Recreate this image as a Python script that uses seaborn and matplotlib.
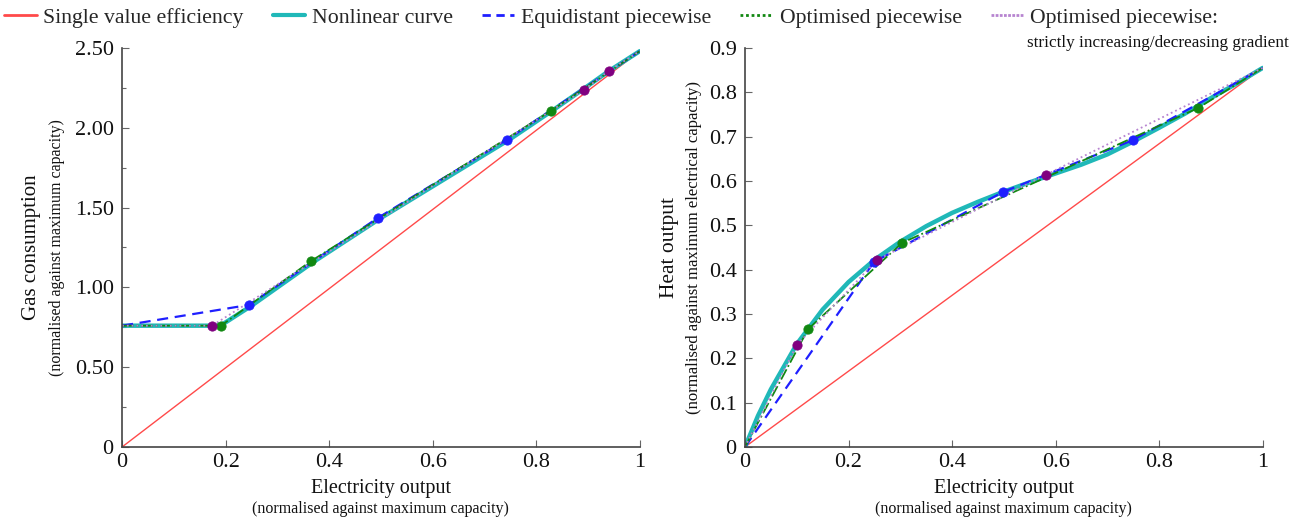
import numpy as np
import pandas as pd
import seaborn as sns
import matplotlib.pyplot as plt
from matplotlib.lines import Line2D
from matplotlib.ticker import MultipleLocator

# left panel: gas consumption
gas_single_x = [0, 1]
gas_single_y = [0, 2.48]
gas_curve_x = [0, 0.19, 0.25, 0.37, 0.5, 0.75, 0.83, 0.89, 0.94, 1.0]
gas_curve_y = [0.76, 0.76, 0.885, 1.16, 1.435, 1.93, 2.105, 2.24, 2.355, 2.48]
gas_equi_x = [0, 0.245, 0.494, 0.743, 1.0]
gas_equi_y = [0.76, 0.89, 1.435, 1.925, 2.48]
gas_opt_x = [0, 0.191, 0.365, 0.828, 1.0]
gas_opt_y = [0.76, 0.76, 1.165, 2.105, 2.48]
gas_strict_x = [0, 0.174, 0.892, 0.94, 1.0]
gas_strict_y = [0.76, 0.76, 2.237, 2.356, 2.48]

# right panel: heat output
heat_single_x = [0, 1]
heat_single_y = [0, 0.855]
heat_curve_x = [0, 0.025, 0.05, 0.1, 0.15, 0.2, 0.25, 0.3, 0.35, 0.4, 0.45, 0.5,
                0.55, 0.6, 0.65, 0.7, 0.75, 0.8, 0.85, 0.9, 0.95, 1.0]
heat_curve_y = [0, 0.07, 0.13, 0.232, 0.31, 0.372, 0.422, 0.463, 0.498, 0.528,
                0.553, 0.576, 0.597, 0.617, 0.637, 0.66, 0.689, 0.72, 0.752, 0.787,
                0.82, 0.855]
heat_equi_x = [0, 0.249, 0.498, 0.749, 1.0]
heat_equi_y = [0, 0.417, 0.575, 0.692, 0.855]
heat_opt_x = [0, 0.122, 0.303, 0.876, 1.0]
heat_opt_y = [0, 0.266, 0.46, 0.765, 0.855]
heat_strict_x = [0, 0.10, 0.255, 0.581, 1.0]
heat_strict_y = [0, 0.23, 0.422, 0.614, 0.855]

labels = ["Single value efficiency", "Nonlinear curve", "Equidistant piecewise",
          "Optimised piecewise", "Optimised piecewise:"]

sns.set_theme(style="ticks")
plt.rcParams['font.family'] = ['Liberation Serif', 'DejaVu Serif']

RED = "#ff4a4a"
TEAL = "#20b8b8"
BLUE = "#1f1fff"
GREEN = "#118811"
LPURPLE = "#b784d0"
DPURPLE = "#800080"
TXT = "#111111"

fig = plt.figure(figsize=(13.04, 5.25), dpi=100)
ax1 = fig.add_axes([0.0936, 0.1486, 0.397, 0.76])
ax2 = fig.add_axes([0.5713, 0.1486, 0.397, 0.76])


def draw(ax, single, curve, equi, opt, strict):
    sns.lineplot(x=single[0], y=single[1], ax=ax, color=RED, lw=1.0)
    sns.lineplot(x=curve[0], y=curve[1], ax=ax, color=TEAL, lw=3.2)
    sns.lineplot(x=equi[0], y=equi[1], ax=ax, color=BLUE, lw=1.6, ls=(0, (5, 3)))
    sns.lineplot(x=opt[0], y=opt[1], ax=ax, color=GREEN, lw=1.3, ls="-.")
    sns.lineplot(x=strict[0], y=strict[1], ax=ax, color=LPURPLE, lw=1.3, ls=":")
    sns.scatterplot(x=equi[0][1:-1], y=equi[1][1:-1], ax=ax, color=BLUE, s=45,
                    edgecolor=BLUE, zorder=5)
    sns.scatterplot(x=opt[0][1:-1], y=opt[1][1:-1], ax=ax, color=GREEN, s=45,
                    edgecolor=GREEN, zorder=5)
    sns.scatterplot(x=strict[0][1:-1], y=strict[1][1:-1], ax=ax, color=DPURPLE, s=45,
                    edgecolor=DPURPLE, zorder=5)
    ax.set_xlim(0, 1)
    ax.set_xticks([0, 0.2, 0.4, 0.6, 0.8, 1.0])
    ax.set_xticklabels(["0", "0.2", "0.4", "0.6", "0.8", "1"])
    for s in ["top", "right"]:
        ax.spines[s].set_visible(False)
    for s in ["left", "bottom"]:
        ax.spines[s].set_color("#444444")
        ax.spines[s].set_linewidth(1.2)
    ax.tick_params(direction="in", length=5, width=0.8, color="#666666",
                   labelsize=16, labelcolor=TXT)
    ax.tick_params(axis="y", pad=6)
    ax.tick_params(axis="x", pad=4)
    ax.tick_params(which="minor", direction="in", length=3, width=0.8, color="#666666")
    ax.set_xlabel("")
    ax.set_ylabel("")
    ax.text(0.5, -0.103, "Electricity output", transform=ax.transAxes, ha="center",
            va="center", fontsize=14.5, color=TXT)
    ax.text(0.5, -0.155, "(normalised against maximum capacity)", transform=ax.transAxes,
            ha="center", va="center", fontsize=11.5, color=TXT)


draw(ax1, (gas_single_x, gas_single_y), (gas_curve_x, gas_curve_y),
     (gas_equi_x, gas_equi_y), (gas_opt_x, gas_opt_y), (gas_strict_x, gas_strict_y))
ax1.set_ylim(0, 2.5)
ax1.set_yticks([0, 0.5, 1.0, 1.5, 2.0, 2.5])
ax1.set_yticklabels(["0", "0.50", "1.00", "1.50", "2.00", "2.50"])
ax1.yaxis.set_minor_locator(MultipleLocator(0.25))
ax1.text(-0.174, 0.5, "Gas consumption", transform=ax1.transAxes, rotation=90,
         ha="center", va="center", fontsize=15, color=TXT)
ax1.text(-0.125, 0.5, "(normalised against maximum capacity)", transform=ax1.transAxes,
         rotation=90, ha="center", va="center", fontsize=11.5, color=TXT)

draw(ax2, (heat_single_x, heat_single_y), (heat_curve_x, heat_curve_y),
     (heat_equi_x, heat_equi_y), (heat_opt_x, heat_opt_y), (heat_strict_x, heat_strict_y))
ax2.set_ylim(0, 0.9)
ax2.set_yticks(np.round(np.arange(0, 0.91, 0.1), 1))
ax2.set_yticklabels(["0"] + [f"{v:.1f}" for v in np.arange(0.1, 0.91, 0.1)])
ax2.text(-0.145, 0.5, "Heat output", transform=ax2.transAxes, rotation=90,
         ha="center", va="center", fontsize=15.5, color=TXT)
ax2.text(-0.098, 0.5, "(normalised against maximum electrical capacity)",
         transform=ax2.transAxes, rotation=90, ha="center", va="center",
         fontsize=12, color=TXT)

handles = [
    Line2D([], [], color=RED, lw=2),
    Line2D([], [], color=TEAL, lw=3),
    Line2D([], [], color=BLUE, lw=2, ls=(0, (3, 2))),
    Line2D([], [], color=GREEN, lw=2, ls=(0, (1, 1))),
    Line2D([], [], color=LPURPLE, lw=2, ls=(0, (1, 0.5))),
]
fig.legend(handles, labels, loc="center left", bbox_to_anchor=(0.003, 0.966), ncol=5,
           frameon=False, fontsize=15.7, handlelength=1.5, handletextpad=0.3,
           columnspacing=1.33, borderaxespad=0, borderpad=0)
fig.text(0.7876, 0.918, "strictly increasing/decreasing gradient", fontsize=12.3,
         ha="left", va="center", color=TXT)

fig.savefig("out.png", dpi=100)
